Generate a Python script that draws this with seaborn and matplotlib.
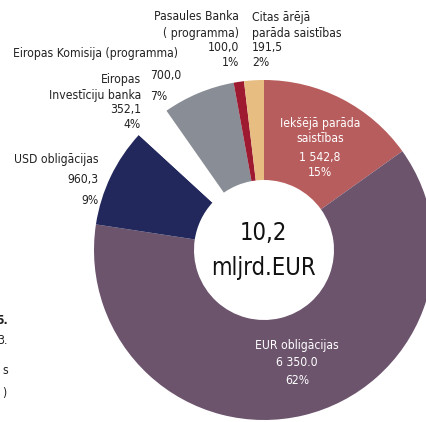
import matplotlib
matplotlib.use('Agg')
import matplotlib.pyplot as plt
import seaborn as sns

# datu daļas (milj. EUR), secībā pulksteņrādītāja virzienā no augšas
nosaukumi = ['Iekšējā parāda saistības', 'EUR obligācijas', 'USD obligācijas',
             'Eiropas Investīciju banka', 'Eiropas Komisija (programma)',
             'Pasaules Banka (programma)', 'Citas ārējā parāda saistības']
vertibas = [1542.8, 6350.0, 960.3, 352.1, 700.0, 100.0, 191.5]
vert_teksts = ['1 542,8', '6 350.0', '960,3', '352,1', '700,0', '100,0', '191,5']
procenti = ['15%', '62%', '9%', '4%', '7%', '1%', '2%']
krasas = ['#B85D5E', '#6C546D', '#22285C', '#FFFFFF', '#898D95', '#9E1A30', '#E8BD82']
kopa_teksts = '10,2'

sns.set_theme(style='white')
plt.rcParams['font.family'] = ['DejaVu Sans']
plt.rcParams['font.stretch'] = 'condensed'

W, H = 427, 422
fig = plt.figure(figsize=(W / 100, H / 100), dpi=100)
ax = fig.add_axes([0, 0, 1, 1])

cx, cy = 264, H - 250
ax.pie(vertibas, colors=krasas, startangle=90, counterclock=False,
       center=(cx, cy), radius=170,
       wedgeprops=dict(width=100, linewidth=0))
ax.set_xlim(0, W)
ax.set_ylim(0, H)
ax.set_aspect('auto')
ax.axis('off')


def t(x, y, s, **kw):
    # pikseļu koordinātas no augšas
    kw.setdefault('fontsize', 8.7)
    kw.setdefault('color', '#222222')
    ax.text(x, H - y, s, va='center', fontstretch='condensed', **kw)


def rindas(x, ys, teksti, **kw):
    for y, s in zip(ys, teksti):
        t(x, y, s, **kw)


# centra teksts
t(263, 233, kopa_teksts, ha='center', fontsize=17, color='#111111')
t(263, 268, 'mljrd.EUR', ha='center', fontsize=17, color='#111111')

# etiķetes
rindas(239, [17, 33, 48, 63], ['Pasaules Banka', '( programma)', vert_teksts[5], procenti[5]], ha='right')
rindas(252, [17, 33, 48, 63], ['Citas ārējā', 'parāda saistības', vert_teksts[6], procenti[6]], ha='left')
t(178, 53, 'Eiropas Komisija (programma)', ha='right')
rindas(150, [75, 96], [vert_teksts[4], procenti[4]], ha='left')
rindas(141, [80, 95, 110, 124], ['Eiropas', 'Investīciju banka', vert_teksts[3], procenti[3]], ha='right')
rindas(99, [159, 180, 200], ['USD obligācijas', vert_teksts[2], procenti[2]], ha='right')
rindas(320, [123, 139, 157, 172], ['Iekšējā parāda', 'saistības', vert_teksts[0], procenti[0]],
       ha='center', color='white')
rindas(297, [345, 363, 380], ['EUR obligācijas', vert_teksts[1], procenti[1]],
       ha='center', color='white')

# nogriezti teksta gali kreisajā malā
t(8, 320, '5.', ha='right', fontweight='bold')
t(8, 340, '3.', ha='right')
t(8, 370, 's', ha='right')
t(6, 393, ')', ha='right')

fig.savefig('out.png', dpi=100)
